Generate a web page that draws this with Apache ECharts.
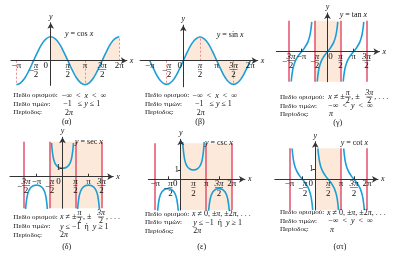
<!DOCTYPE html>
<html>
<head>
<meta charset="utf-8">
<script src="https://cdn.jsdelivr.net/npm/echarts@6/dist/echarts.min.js"></script>
<style>
  html, body { margin: 0; padding: 0; background: #fff; }
  #chart { width: 400px; height: 263px; }
</style>
</head>
<body>
<div id="chart"></div>
<script>
// x values are in multiples of π
const cosX = [-1, -0.875, -0.75, -0.625, -0.5, -0.375, -0.25, -0.125, 0, 0.125, 0.25, 0.375, 0.5,
              0.625, 0.75, 0.875, 1, 1.125, 1.25, 1.375, 1.5, 1.625, 1.75, 1.875, 2];
const cosY = [-1, -0.92, -0.71, -0.38, 0, 0.38, 0.71, 0.92, 1, 0.92, 0.71, 0.38, 0,
              -0.38, -0.71, -0.92, -1, -0.92, -0.71, -0.38, 0, 0.38, 0.71, 0.92, 1];
const cosGuideX = [-1, 1, 2];
const cosGuideY = [-1, -1, 1];

const sinX = [-1, -0.875, -0.75, -0.625, -0.5, -0.375, -0.25, -0.125, 0, 0.125, 0.25, 0.375, 0.5,
              0.625, 0.75, 0.875, 1, 1.125, 1.25, 1.375, 1.5, 1.625, 1.75, 1.875, 2];
const sinY = [0, -0.38, -0.71, -0.92, -1, -0.92, -0.71, -0.38, 0, 0.38, 0.71, 0.92, 1,
              0.92, 0.71, 0.38, 0, -0.38, -0.71, -0.92, -1, -0.92, -0.71, -0.38, 0];
const sinGuideX = [-0.5, 0.5, 1.5];
const sinGuideY = [-1, 1, -1];
const waveShade = [0, 2];

// one branch of tan around its centre
const tanOffX = [-0.395, -0.35, -0.3, -0.25, -0.2, -0.1, 0, 0.1, 0.2, 0.25, 0.3, 0.35, 0.395];
const tanY = [-2.92, -1.96, -1.38, -1, -0.73, -0.32, 0, 0.32, 0.73, 1, 1.38, 1.96, 2.92];
const tanCenters = [-1, 0, 1];
const tanAsym = [-1.5, -0.5, 0.5, 1.5];
const tanShade = [-0.5, 0.5];

// one branch of sec / csc around its centre
const secOffX = [-0.42, -0.4, -0.35, -0.3, -0.25, -0.2, -0.1, 0, 0.1, 0.2, 0.25, 0.3, 0.35, 0.4, 0.42];
const secUpY = [4.02, 3.24, 2.2, 1.7, 1.41, 1.24, 1.05, 1, 1.05, 1.24, 1.41, 1.7, 2.2, 3.24, 4.02];
const secDownY = [-4.02, -3.24, -2.2, -1.7, -1.41, -1.24, -1.05, -1, -1.05, -1.24, -1.41, -1.7, -2.2, -3.24, -4.02];
const secUpCenters = [0];
const secDownCenters = [-1, 1];
const secAsym = [-1.5, -0.5, 0.5, 1.5];
const secShade = [-0.5, 1.5];

const cscUpCenters = [0.5];
const cscDownCenters = [-0.5, 1.5];
const cscAsym = [-1, 1, 2];
const cscShade = [0, 2];

// one branch of cot from its left asymptote
const cotOffX = [0.1, 0.15, 0.2, 0.25, 0.3, 0.4, 0.5, 0.6, 0.7, 0.75, 0.8, 0.85, 0.9];
const cotY = [3.08, 1.96, 1.38, 1, 0.73, 0.32, 0, -0.32, -0.73, -1, -1.38, -1.96, -3.08];
const cotStarts = [-1, 0, 1];
const cotAsym = [-1, 1, 2];
const cotShade = [0, 1];

const ticksPi = [-1, -0.5, 0, 0.5, 1, 1.5, 2];
const labelsPi = ['−π', '−π/2', '0', 'π/2', 'π', '3π/2', '2π'];
const ticksHalf = [-1.5, -1, -0.5, 0, 0.5, 1, 1.5];
const labelsHalf = ['−3π/2', '−π', '−π/2', '0', 'π/2', 'π', '3π/2'];

const BLUE = '#1c9ed6';
const RED = '#e2506b';
const PEACH = '#fce9da';
const DASH = '#ee8a8a';
const AX = '#333';
const TXT = '#111';
const SERIF = '"Liberation Serif", "DejaVu Serif", serif';

// layout of each small plot: origin pixel, px per π, px per unit
const panels = [
    {ox: 50.7, oy: 60.7, px: 34.3, py: 24, xmin: -1.16, xmax: 2.22, ymin: -1.03, ymax: 1.58, zero: -5, ticks: ticksPi, labels: labelsPi},
    {ox: 183.3, oy: 60.7, px: 33.5, py: 23.7, xmin: -1.29, xmax: 2.22, ymin: -1.1, ymax: 1.5, zero: -3.5, ticks: ticksPi, labels: labelsPi},
    {ox: 327.5, oy: 51.7, px: 26, py: 10.2, xmin: -1.97, xmax: 2.0, ymin: -2.94, ymax: 3.8, top: 3.04, zero: 3, ticks: ticksHalf, labels: labelsHalf, marks: [-1, 1]},
    {ox: 62.5, oy: 176.7, px: 26, py: 8.4, xmin: -2.02, xmax: 1.95, ymin: -3.76, ymax: 4.7, top: 4.17, zero: -4, ticks: ticksHalf, labels: labelsHalf, marks: [-1, 1], one: true},
    {ox: 180.7, oy: 179.3, px: 25.5, py: 9.3, xmin: -1.27, xmax: 2.52, ymin: -3.3, ymax: 4.3, top: 3.87, zero: -5.5, ticks: ticksPi, labels: labelsPi, marks: [-0.5, 1.5], one: true},
    {ox: 315.3, oy: 179.3, px: 25.8, py: 10, xmin: -1.57, xmax: 2.43, ymin: -3.07, ymax: 3.76, top: 3.1, zero: -4.5, ticks: ticksPi, labels: labelsPi, marks: [-0.5, 1.5], one: true}
];

function tickLabel(s) {
    if (s === '0') return '{z|0}';
    const k = s.indexOf('/');
    if (k < 0) return '{s|' + s + '}';
    let num = s.slice(0, k);
    const den = s.slice(k + 1);
    const bar = num.replace('−', '').length > 1 ? '──' : '─';
    if (num[0] === '−') {
        num = num.slice(1);
        return '{mh|−}{n|' + num + '}\n{m|−}{b|' + bar + '}\n{mh|−}{d|' + den + '}';
    }
    return '{n|' + num + '}\n{b|' + bar + '}\n{d|' + den + '}';
}

function richFor(p) {
    const base = {fontFamily: SERIF, fontSize: 9, color: TXT};
    return {
        s: Object.assign({}, base, {lineHeight: 7}),
        n: Object.assign({}, base, {lineHeight: 7.5, fontStyle: 'italic'}),
        d: Object.assign({}, base, {lineHeight: 7.5}),
        b: {fontFamily: '"DejaVu Sans"', fontSize: 6.5, lineHeight: 2, color: TXT},
        m: Object.assign({}, base, {lineHeight: 2}),
        mh: Object.assign({}, base, {lineHeight: 7.5, color: 'rgba(0,0,0,0)'}),
        z: Object.assign({}, base, {lineHeight: 7,
            padding: p.zero < 0 ? [0, -2 * p.zero, 0, 0] : [0, 0, 0, 2 * p.zero]})
    };
}

// axes are shifted from the grid edge onto the zero lines with offset
const grids = [], xAxes = [], yAxes = [];
panels.forEach((p, i) => {
    grids.push({
        left: p.ox + p.xmin * p.px,
        top: p.oy - p.ymax * p.py,
        width: (p.xmax - p.xmin) * p.px,
        height: (p.ymax - p.ymin) * p.py,
        containLabel: false,
        outerBoundsMode: 'none'
    });
    xAxes.push({
        gridIndex: i, type: 'value', min: p.xmin, max: p.xmax, z: 10,
        position: 'bottom', offset: p.ymin * p.py,
        axisLine: {onZero: false, symbol: ['none', 'arrow'], symbolSize: [5, 6], lineStyle: {color: AX, width: 1}},
        axisTick: {show: !!p.marks, customValues: p.marks || [], inside: true, length: 3, lineStyle: {color: AX}},
        axisLabel: {
            customValues: p.ticks, margin: 1, rich: richFor(p), hideOverlap: false,
            formatter: v => {
                const k = p.ticks.findIndex(t => Math.abs(t - v) < 1e-6);
                return k < 0 ? '' : tickLabel(p.labels[k]);
            }
        },
        splitLine: {show: false},
        name: 'x', nameLocation: 'end', nameGap: 3,
        nameTextStyle: {fontFamily: SERIF, fontStyle: 'italic', fontSize: 8, color: TXT}
    });
    yAxes.push({
        gridIndex: i, type: 'value', min: p.ymin, max: p.ymax, z: 10,
        position: 'left', offset: p.xmin * p.px,
        axisLine: {onZero: false, symbol: ['none', 'arrow'], symbolSize: [5, 6], lineStyle: {color: AX, width: 1}},
        axisTick: {show: !!p.one, customValues: [1], length: 3, lineStyle: {color: AX}},
        axisLabel: {show: !!p.one, customValues: [1], margin: 2, fontFamily: SERIF, fontSize: 8, color: TXT},
        splitLine: {show: false},
        name: 'y', nameLocation: 'end', nameGap: 2,
        nameTextStyle: {fontFamily: SERIF, fontStyle: 'italic', fontSize: 8, color: TXT}
    });
});

function curve(i, xs, ys) {
    return {
        type: 'line', xAxisIndex: i, yAxisIndex: i, z: 3,
        data: xs.map((x, k) => [x, ys[k]]),
        smooth: true, symbol: 'none', silent: true,
        lineStyle: {color: BLUE, width: 1.6}
    };
}

function redLines(i, xs) {
    const p = panels[i];
    return {
        silent: true, symbol: ['none', 'none'], label: {show: false},
        lineStyle: {color: RED, width: 1.5, type: 'solid'},
        data: xs.map(x => [{coord: [x, p.ymin]}, {coord: [x, p.top]}])
    };
}

function shade(i, r) {
    const p = panels[i];
    return {
        silent: true, label: {show: false}, itemStyle: {color: PEACH},
        data: [[{coord: [r[0], p.ymin]}, {coord: [r[1], p.top]}]]
    };
}

function guides(gx, gy) {
    return {
        silent: true, symbol: ['none', 'none'], label: {show: false},
        lineStyle: {color: DASH, width: 1, type: [2, 2]},
        data: gx.map((x, k) => [{coord: [x, 0]}, {coord: [x, gy[k]]}])
    };
}

function waveFill(i, xs, ys) {
    const pts = xs.map((x, k) => [x, ys[k]]).filter(d => d[0] >= waveShade[0] && d[0] <= waveShade[1]);
    return {
        type: 'line', xAxisIndex: i, yAxisIndex: i, z: 1, data: pts, smooth: true,
        symbol: 'none', silent: true, lineStyle: {width: 0}, areaStyle: {color: PEACH, opacity: 1}
    };
}

const series = [];
series.push(waveFill(0, cosX, cosY));
series.push(Object.assign(curve(0, cosX, cosY), {markLine: guides(cosGuideX, cosGuideY)}));
series.push(waveFill(1, sinX, sinY));
series.push(Object.assign(curve(1, sinX, sinY), {markLine: guides(sinGuideX, sinGuideY)}));

function branches(i, centers, offs, ys, asym, sh) {
    centers.forEach(c => series.push(curve(i, offs.map(o => c + o), ys)));
    if (asym) {
        series[series.length - 1].markLine = redLines(i, asym);
        series[series.length - 1].markArea = shade(i, sh);
    }
}
branches(2, tanCenters, tanOffX, tanY, tanAsym, tanShade);
branches(3, secDownCenters, secOffX, secDownY);
branches(3, secUpCenters, secOffX, secUpY, secAsym, secShade);
branches(4, cscDownCenters, secOffX, secDownY);
branches(4, cscUpCenters, secOffX, secUpY, cscAsym, cscShade);
branches(5, cotStarts, cotOffX, cotY, cotAsym, cotShade);

// text under each plot
const FS = 7.1;
const TR = {
    t: {fontFamily: SERIF, fontSize: FS, color: TXT},
    m: {fontFamily: SERIF, fontSize: 8, color: TXT},
    i: {fontFamily: SERIF, fontSize: 8, fontStyle: 'italic', color: TXT},
    f: {fontFamily: SERIF, fontSize: 8, color: TXT},
    fi: {fontFamily: SERIF, fontSize: 8, fontStyle: 'italic', color: TXT}
};
const E = '\u2002';
const gfx = [];
function txt(x, y, s, align) {
    gfx.push({
        type: 'text', x: x, y: y, z: 100, silent: true,
        style: {text: s, rich: TR, fill: TXT, font: FS + 'px ' + SERIF,
            align: align || 'left', verticalAlign: 'middle',
            textAlign: align || 'left', textVerticalAlign: 'middle'}
    });
}
function frac(cx, cy, num, den) {
    txt(cx, cy - 4, '{i|' + num + '}', 'center');
    txt(cx, cy + 4.2, '{m|' + den + '}', 'center');
    gfx.push({type: 'line', z: 100, silent: true, shape: {x1: cx - 3, y1: cy, x2: cx + 3, y2: cy},
        style: {stroke: TXT, lineWidth: 0.6}});
}
function notHalfPi(x, y) {
    txt(x, y, '{i|x}{m| ≠ ±}');
    frac(x + 19.5, y, 'π', '2');
    txt(x + 23, y, '{m|, ±}');
    frac(x + 41, y, '3π', '2');
    txt(x + 46, y, '{m|, . . .}');
}
const anyX = '{m|−∞' + E + '<' + E + '}{i|x}{m|' + E + '<' + E + '∞}';
const anyY = '{m|−∞' + E + '<' + E + '}{i|y}{m|' + E + '<' + E + '∞}';
const unitY = '{m|−1' + E + ' ≤ }{i|y}{m| ≤ 1}';
const outY = '{i|y}{m| ≤ −1' + E + 'ή' + E + '}{i|y}{m| ≥ 1}';
const notPi = '{i|x}{m| ≠ 0, ±}{i|π}{m|, ±2}{i|π}{m|, . . .}';

const D = 'Πεδίο ορισμού:', R = 'Πεδίο τιμών:', T = 'Περίοδος:';
// (α)
txt(65, 34, '{fi|y}{f| = cos }{fi|x}');
txt(13.3, 95.5, '{t|' + D + '}'); txt(61.7, 95.5, anyX);
txt(13.3, 104, '{t|' + R + '}'); txt(63.3, 104, unitY);
txt(13.3, 112.5, '{t|' + T + '}'); txt(65, 112.5, '{m|2}{i|π}');
txt(66.7, 121.5, '{m|(α)}', 'center');
// (β)
txt(216.7, 35, '{fi|y}{f| = sin }{fi|x}');
txt(145, 95.5, '{t|' + D + '}'); txt(192.5, 95.5, anyX);
txt(145, 104, '{t|' + R + '}'); txt(195, 104, unitY);
txt(145, 112.5, '{t|' + T + '}'); txt(196.7, 112.5, '{m|2}{i|π}');
txt(200, 121.5, '{m|(β)}', 'center');
// (γ)
txt(339.7, 15, '{fi|y}{f| = tan }{fi|x}');
txt(280, 97, '{t|' + D + '}'); notHalfPi(328.3, 97);
txt(280, 106, '{t|' + R + '}'); txt(328.3, 106, anyY);
txt(280, 114, '{t|' + T + '}'); txt(329, 114, '{i|π}');
txt(337.7, 122.5, '{m|(γ)}', 'center');
// (δ)
txt(75, 141.7, '{fi|y}{f| = sec }{fi|x}');
txt(13.3, 217, '{t|' + D + '}'); notHalfPi(60, 217);
txt(13.3, 226.5, '{t|' + R + '}'); txt(60, 226.5, outY);
txt(13.3, 235, '{t|' + T + '}'); txt(60, 235, '{m|2}{i|π}');
txt(66.7, 246.5, '{m|(δ)}', 'center');
// (ε)
txt(205, 143.3, '{fi|y}{f| = csc }{fi|x}');
txt(145, 214, '{t|' + D + '}'); txt(192, 214, notPi);
txt(145, 222.5, '{t|' + R + '}'); txt(193.3, 222.5, outY);
txt(145, 231, '{t|' + T + '}'); txt(193.3, 231, '{m|2}{i|π}');
txt(201.7, 246.5, '{m|(ε)}', 'center');
// (στ)
txt(340.7, 143.3, '{fi|y}{f| = cot }{fi|x}');
txt(280, 212.5, '{t|' + D + '}'); txt(327, 212.5, notPi);
txt(280, 221, '{t|' + R + '}'); txt(328.3, 221, anyY);
txt(280, 229.5, '{t|' + T + '}'); txt(330, 229.5, '{i|π}');
txt(340, 246.5, '{m|(στ)}', 'center');

const chart = echarts.init(document.getElementById('chart'), null, {renderer: 'canvas'});
chart.setOption({
    animation: false,
    backgroundColor: '#fff',
    grid: grids,
    xAxis: xAxes,
    yAxis: yAxes,
    series: series,
    graphic: {elements: gfx}
});
</script>
</body>
</html>
